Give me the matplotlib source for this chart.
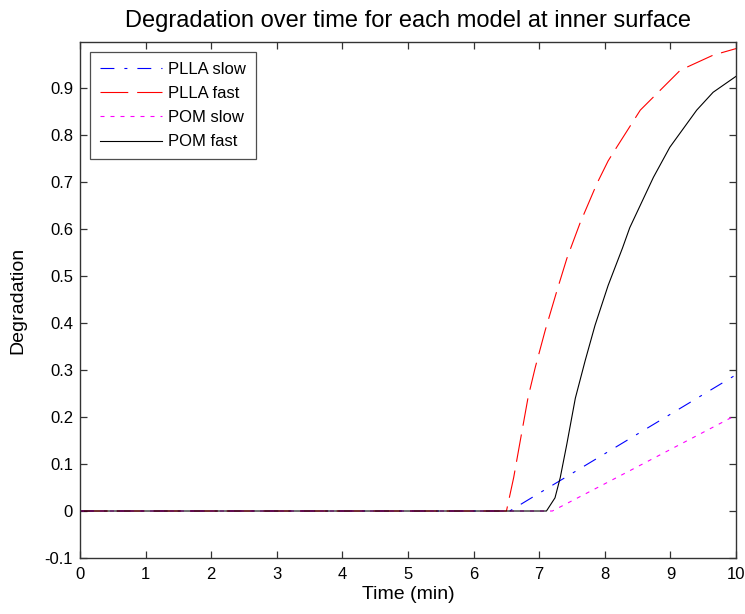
import matplotlib
matplotlib.use("Agg")
import matplotlib.pyplot as plt
import numpy as np

plt.rcParams['font.family'] = ['Liberation Sans', 'DejaVu Sans']

# Data
plla_slow_x = [0, 6.55, 7.0, 8.0, 9.0, 10.0]
plla_slow_y = [0, 0.0, 0.038, 0.122, 0.206, 0.290]

plla_fast_x = [0, 6.5, 6.61, 6.71, 6.83, 6.94, 7.09, 7.27, 7.42, 7.62, 7.88, 8.05, 8.18, 8.54, 9.15, 9.65, 10.0]
plla_fast_y = [0, 0.0, 0.071, 0.149, 0.242, 0.306, 0.384, 0.469, 0.537, 0.612, 0.697, 0.745, 0.774, 0.853, 0.938, 0.970, 0.984]

pom_slow_x = [0, 7.2, 8.0, 9.0, 10.0]
pom_slow_y = [0, 0.0, 0.058, 0.131, 0.204]

pom_fast_x = [0, 7.11, 7.24, 7.32, 7.42, 7.55, 7.7, 7.85, 8.05, 8.27, 8.38, 8.74, 8.99, 9.4, 9.65, 10.0]
pom_fast_y = [0, 0.0, 0.028, 0.071, 0.142, 0.24, 0.32, 0.395, 0.48, 0.56, 0.603, 0.71, 0.774, 0.853, 0.891, 0.925]

labels = ['PLLA slow', 'PLLA fast', 'POM slow', 'POM fast']
xticks = list(range(0, 11))
yticks = [-0.1, 0, 0.1, 0.2, 0.3, 0.4, 0.5, 0.6, 0.7, 0.8, 0.9]
ytick_labels = ['-0.1', '0', '0.1', '0.2', '0.3', '0.4', '0.5', '0.6', '0.7', '0.8', '0.9']

fig = plt.figure(figsize=(7.45, 6.14), dpi=100)
ax = fig.add_axes([0.1074, 0.0912, 0.8806, 0.8404])

lw = 0.8
ax.plot(plla_slow_x, plla_slow_y, color='#0000ff', lw=lw, linestyle=(0, (12.5, 9, 2.7, 9)), label=labels[0])
ax.plot(plla_fast_x, plla_fast_y, color='#ff0000', lw=lw, linestyle=(0, (25, 8)), label=labels[1])
ax.plot(pom_slow_x, pom_slow_y, color='#ff00ff', lw=lw, linestyle=(0, (3.6, 5.4)), label=labels[2])
ax.plot(pom_fast_x, pom_fast_y, color='#000000', lw=lw, linestyle='-', label=labels[3])

ax.set_xlim(0, 10)
ax.set_ylim(-0.1, 0.998)
ax.set_xticks(xticks)
ax.set_yticks(yticks)
ax.set_yticklabels(ytick_labels)
ax.tick_params(direction='in', top=True, right=True, length=5, width=0.9,
               labelsize=12, colors='#333333', labelcolor='black')
ax.tick_params(axis='x', pad=6.5)
ax.tick_params(axis='y', pad=5)
for s in ax.spines.values():
    s.set_color('#333333')
    s.set_linewidth(1.0)

ax.set_title('Degradation over time for each model at inner surface', fontsize=17, pad=11)
ax.set_xlabel('Time (min)', fontsize=14, labelpad=3)
ax.set_ylabel('Degradation', fontsize=14, labelpad=13)

leg = ax.legend(loc='upper left', fontsize=12, frameon=True, fancybox=False,
                edgecolor='#222222', handlelength=3.7, borderaxespad=0.6,
                borderpad=0.6, labelspacing=0.55, handletextpad=0.4)
leg.get_frame().set_linewidth(0.9)

fig.savefig('out.png', dpi=100)
